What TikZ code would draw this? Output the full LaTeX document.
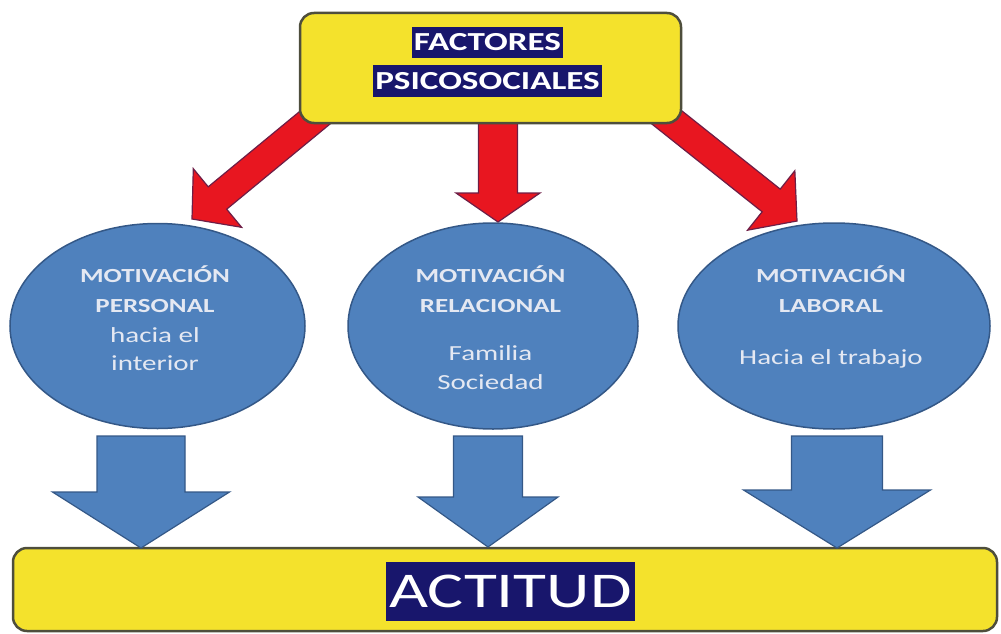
\documentclass[tikz,border=0pt]{standalone}
\usepackage{fontspec}
\newfontfamily\cf{Carlito}[FakeStretch=1.35]
\usetikzlibrary{shapes.geometric,calc}
\definecolor{ylw}{RGB}{244,226,44}
\definecolor{ybord}{RGB}{78,78,60}
\definecolor{navy}{RGB}{24,22,108}
\definecolor{eblue}{RGB}{79,129,189}
\definecolor{eborder}{RGB}{52,88,135}
\definecolor{rred}{RGB}{232,22,32}
\definecolor{rborder}{RGB}{110,30,70}
\definecolor{etext}{RGB}{228,232,242}
\newcommand\blockarrow[6]{%
  \coordinate (ba-m) at ($(#2)!#5!(#1)$);
  \draw[#6] ($(#1)!#3!90:(#2)$) -- ($(ba-m)!#3!90:(#2)$) -- ($(ba-m)!#4!90:(#2)$) -- (#2)
    -- ($(ba-m)!#4!-90:(#2)$) -- ($(ba-m)!#3!-90:(#2)$) -- ($(#1)!#3!-90:(#2)$) -- cycle;}
\begin{document}
\begin{tikzpicture}[x=1pt,y=-1pt,
  ybox/.style={draw=ybord, line width=2.5pt, fill=ylw, rounded corners=14pt, inner sep=0pt},
  ell/.style={ellipse, draw=eborder, line width=1.5pt, fill=eblue, inner sep=0pt},
  hl/.style={fill=navy, text=white, inner sep=0pt},
  etxt/.style={text=etext, anchor=base, inner sep=0pt, font=\cf\fontsize{21.5}{24}\selectfont},
  etxtb/.style={etxt, font=\cf\bfseries\fontsize{20}{24}\selectfont},
  redarrow/.style={fill=rred, draw=rborder, line width=1.2pt, line join=miter},
  bluearrow/.style={fill=eblue, draw=eborder, line width=1.2pt, line join=miter}]
\useasboundingbox (0,0) rectangle (1001,634);
% ellipses
\node[ell, minimum width=295pt, minimum height=205pt] (e1) at (157.5,326) {};
\node[ell, minimum width=290pt, minimum height=206pt] (e2) at (493,326) {};
\node[ell, minimum width=312pt, minimum height=206pt] (e3) at (834,326) {};
% ellipse texts
\node[etxtb] (t1a) at (155,282) {MOTIVACIÓN};
\node[etxtb] (t1b) at (155,312) {PERSONAL};
\node[etxt] (t1c) at (155,342) {hacia el};
\node[etxt] (t1d) at (155,370) {interior};
\node[etxtb] (t2a) at (490.5,282) {MOTIVACIÓN};
\node[etxtb] (t2b) at (490.5,312) {RELACIONAL};
\node[etxt] (t2c) at (490.5,360) {Familia};
\node[etxt] (t2d) at (490.5,389) {Sociedad};
\node[etxtb] (t3a) at (831,282) {MOTIVACIÓN};
\node[etxtb] (t3b) at (831,312) {LABORAL};
\node[etxt] (t3c) at (831,364) {Hacia el trabajo};
% red arrows
\coordinate (r1s) at (340,97);  \coordinate (r1t) at (192,219);
\coordinate (r2s) at (498,110); \coordinate (r2t) at (498,222);
\coordinate (r3s) at (650,104); \coordinate (r3t) at (797,221);
\blockarrow{r1s}{r1t}{14.5pt}{38pt}{33pt}{redarrow}
\blockarrow{r2s}{r2t}{19.5pt}{42pt}{29pt}{redarrow}
\blockarrow{r3s}{r3t}{14.5pt}{38pt}{33pt}{redarrow}
% top box
\node[ybox, minimum width=381pt, minimum height=110pt] (top) at (490.5,68) {};
\node[hl, minimum width=151pt, minimum height=31pt, font=\cf\bfseries\fontsize{26}{30}\selectfont] (f1) at (487.5,42.5) {FACTORES};
\node[hl, minimum width=229pt, minimum height=32pt, font=\cf\bfseries\fontsize{26}{30}\selectfont] (f2) at (487.5,81) {PSICOSOCIALES};
% bottom box
\node[ybox, minimum width=984pt, minimum height=83pt] (bot) at (505,589.5) {};
\node[hl, minimum width=249pt, minimum height=59pt, font=\cf\fontsize{50}{54}\selectfont] (act) at (510.5,591.5) {\raisebox{-4pt}{ACTITUD}};
% blue arrows
\coordinate (b1s) at (141,436); \coordinate (b1t) at (141,548);
\coordinate (b2s) at (488,436); \coordinate (b2t) at (488,547);
\coordinate (b3s) at (837,436); \coordinate (b3t) at (837,548);
\blockarrow{b1s}{b1t}{44pt}{88.5pt}{56pt}{bluearrow}
\blockarrow{b2s}{b2t}{34.5pt}{70pt}{50pt}{bluearrow}
\blockarrow{b3s}{b3t}{45.5pt}{93.5pt}{58pt}{bluearrow}
\end{tikzpicture}
\end{document}
